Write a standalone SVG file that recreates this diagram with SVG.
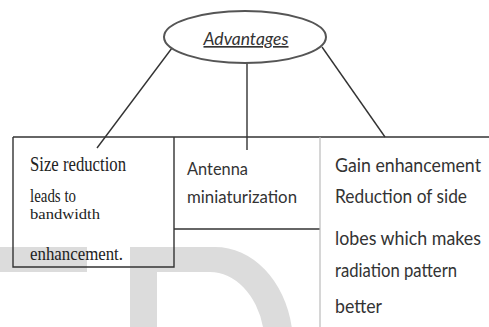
<svg xmlns="http://www.w3.org/2000/svg" width="489" height="327" viewBox="0 0 489 327">
<style>
.wm{fill:#dcdcdc;stroke:none}
.ln{stroke:#333;stroke-width:1.4;fill:none}
.lt{stroke:#bbb;stroke-width:1.2;fill:none}
.serif{font-family:"Liberation Serif","Times New Roman",serif;fill:#222}
.sans{font-family:Lato,"Open Sans","Liberation Sans",sans-serif;fill:#333}
.rt{font-size:18.5px}
</style>
<rect width="489" height="327" fill="#fff"/>
<g id="watermark">
<rect class="wm" x="0" y="247" width="87" height="25"/>
<path class="wm" d="M130,247 H215 A78,98 0 0 1 291.7,327 H263 A55,73 0 0 0 210,272 H157 V327 H130 Z"/>
</g>
<g id="connectors">
<line class="ln" x1="172" y1="48" x2="97" y2="148"/>
<line class="ln" x1="247" y1="63" x2="247" y2="150"/>
<line class="ln" x1="322" y1="47" x2="385" y2="137"/>
</g>
<g id="advantages">
<ellipse cx="245" cy="37" rx="81" ry="26" fill="none" stroke="#555" stroke-width="2"/>
<text class="sans" x="246" y="45" font-size="16.5" font-style="italic" text-anchor="middle" text-decoration="underline" textLength="85" lengthAdjust="spacingAndGlyphs" fill="#222">Advantages</text>
</g>
<g id="top-bar">
<line class="ln" x1="13" y1="137" x2="489" y2="137"/>
</g>
<g id="size-reduction">
<path class="ln" d="M13,137 V267 H174 V137"/>
<text class="serif" x="30" y="171" font-size="21" textLength="96" lengthAdjust="spacingAndGlyphs">Size reduction</text>
<text class="serif" x="30" y="202" font-size="18" textLength="46" lengthAdjust="spacingAndGlyphs">leads to</text>
<text class="serif" x="30" y="219" font-size="14" textLength="70" lengthAdjust="spacingAndGlyphs">bandwidth</text>
<text class="serif" x="30" y="260" font-size="19.5" textLength="93" lengthAdjust="spacingAndGlyphs">enhancement.</text>
</g>
<g id="antenna">
<line class="ln" x1="174" y1="229" x2="320" y2="229"/>
<text class="sans" x="187" y="175" font-size="18" textLength="61" lengthAdjust="spacingAndGlyphs" fill="#3a3a3a">Antenna</text>
<text class="sans" x="187" y="203" font-size="18" textLength="110" lengthAdjust="spacingAndGlyphs" fill="#3a3a3a">miniaturization</text>
</g>
<g id="gain">
<line class="lt" x1="320" y1="137" x2="320" y2="327"/>
<text class="sans rt" x="335" y="172" textLength="146" lengthAdjust="spacingAndGlyphs">Gain enhancement</text>
<text class="sans rt" x="335" y="203" textLength="132" lengthAdjust="spacingAndGlyphs">Reduction of side</text>
<text class="sans rt" x="335" y="245" textLength="146" lengthAdjust="spacingAndGlyphs">lobes which makes</text>
<text class="sans rt" x="335" y="277" textLength="122" lengthAdjust="spacingAndGlyphs">radiation pattern</text>
<text class="sans rt" x="335" y="313" textLength="47" lengthAdjust="spacingAndGlyphs">better</text>
</g>
</svg>
